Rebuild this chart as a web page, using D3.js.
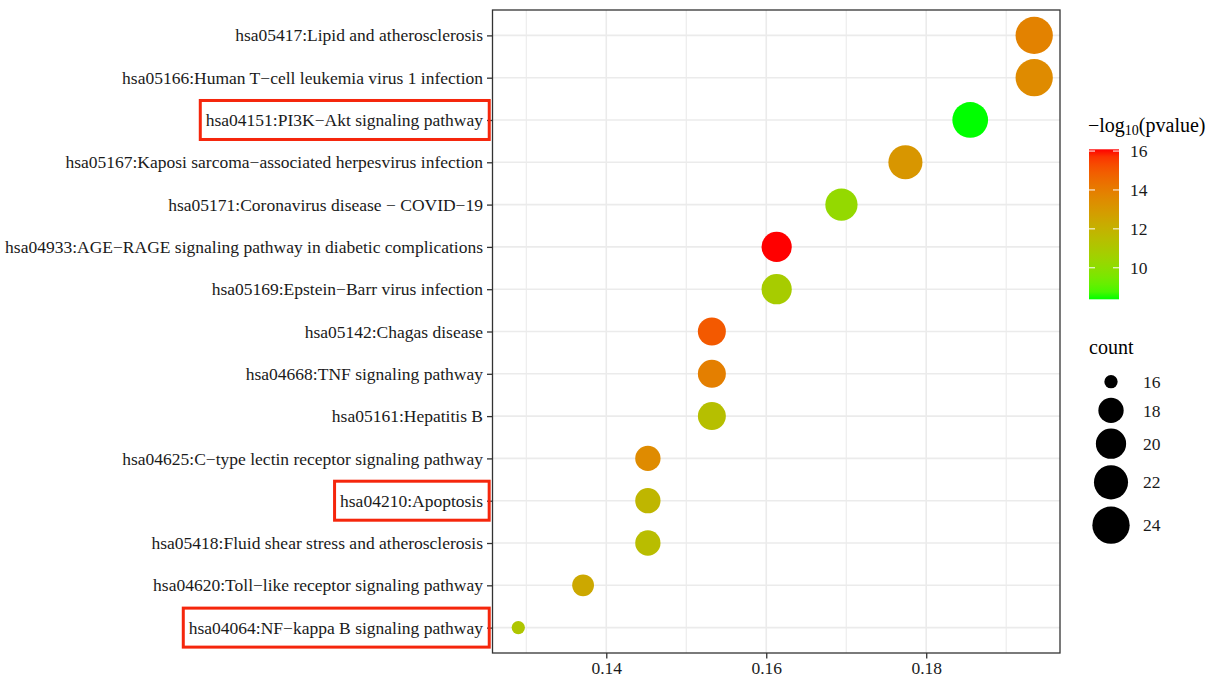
<!DOCTYPE html>
<html>
<head>
<meta charset="utf-8">
<script src="https://cdn.jsdelivr.net/npm/d3@7"></script>
<style>
  html, body { margin: 0; padding: 0; background: #fff; }
  svg { display: block; font-family: "Liberation Serif", "DejaVu Serif", serif; }
  svg text { font-family: "Liberation Serif", "DejaVu Serif", serif; }
</style>
</head>
<body>
<svg id="chart" width="1221" height="677"></svg>
<script>
// KEGG pathway enrichment, top to bottom
const pathways = [
  "hsa05417:Lipid and atherosclerosis",
  "hsa05166:Human T\u2212cell leukemia virus 1 infection",
  "hsa04151:PI3K\u2212Akt signaling pathway",
  "hsa05167:Kaposi sarcoma\u2212associated herpesvirus infection",
  "hsa05171:Coronavirus disease \u2212 COVID\u221219",
  "hsa04933:AGE\u2212RAGE signaling pathway in diabetic complications",
  "hsa05169:Epstein\u2212Barr virus infection",
  "hsa05142:Chagas disease",
  "hsa04668:TNF signaling pathway",
  "hsa05161:Hepatitis B",
  "hsa04625:C\u2212type lectin receptor signaling pathway",
  "hsa04210:Apoptosis",
  "hsa05418:Fluid shear stress and atherosclerosis",
  "hsa04620:Toll\u2212like receptor signaling pathway",
  "hsa04064:NF\u2212kappa B signaling pathway"
];
const geneRatio = [0.1935, 0.1935, 0.1855, 0.1774, 0.1694, 0.1613, 0.1613, 0.1532,
                   0.1532, 0.1532, 0.1452, 0.1452, 0.1452, 0.1371, 0.1290];
const geneCount = [24, 24, 23, 22, 21, 20, 20, 19, 19, 19, 18, 18, 18, 17, 16];
const negLogP  = [13.8, 13.5, 8.38, 13.1, 10.2, 16.09, 10.8, 15.0,
                  13.9, 11.4, 13.5, 11.8, 11.5, 12.4, 11.1];

const highlighted = [
  "hsa04151:PI3K\u2212Akt signaling pathway",
  "hsa04210:Apoptosis",
  "hsa04064:NF\u2212kappa B signaling pathway"
];

const xMajorTicks = [0.14, 0.16, 0.18];
const xMinorTicks = [0.13, 0.15, 0.17, 0.19];
const colorTicks = [10, 12, 14, 16];
const countTicks = [16, 18, 20, 22, 24];

const rows = pathways.map((p, i) => ({
  name: p, ratio: geneRatio[i], count: geneCount[i], score: negLogP[i]
}));

const svg = d3.select("#chart");
const panel = { left: 492.5, right: 1060, top: 10, bottom: 653 };
const FONT = 17.5;
const SERIF = "Liberation Serif, DejaVu Serif, serif";

// scales
const xExtent = d3.extent(geneRatio);
const xPad = (xExtent[1] - xExtent[0]) * 0.05;
const x = d3.scaleLinear()
  .domain([xExtent[0] - xPad, xExtent[1] + xPad])
  .range([panel.left, panel.right]);

const y = d3.scalePoint()
  .domain(pathways)
  .range([panel.top, panel.bottom])
  .padding(0.6);

const colorDomain = [8.38, 16.09];
const color = d3.scaleLinear()
  .domain(colorDomain)
  .range(["#00FF00", "#FF0000"])
  .interpolate(d3.interpolateLab);

// point size: diameter grows with sqrt of rescaled count (area scale)
const countExtent = [16, 24];
const diam = d3.scaleLinear().domain([0, 1]).range([13.3, 37.3]);
const radius = c => diam(Math.sqrt((c - countExtent[0]) / (countExtent[1] - countExtent[0]))) / 2;

// grid
const grid = svg.append("g");
grid.selectAll("line.minor").data(xMinorTicks).join("line")
  .attr("x1", d => x(d)).attr("x2", d => x(d))
  .attr("y1", panel.top).attr("y2", panel.bottom)
  .attr("stroke", "#EBEBEB").attr("stroke-width", 1.1);
grid.selectAll("line.majx").data(xMajorTicks).join("line")
  .attr("x1", d => x(d)).attr("x2", d => x(d))
  .attr("y1", panel.top).attr("y2", panel.bottom)
  .attr("stroke", "#EBEBEB").attr("stroke-width", 1.6);
grid.selectAll("line.majy").data(pathways).join("line")
  .attr("x1", panel.left).attr("x2", panel.right)
  .attr("y1", d => y(d)).attr("y2", d => y(d))
  .attr("stroke", "#EBEBEB").attr("stroke-width", 1.6);

// points
svg.append("g").selectAll("circle").data(rows).join("circle")
  .attr("cx", d => x(d.ratio))
  .attr("cy", d => y(d.name))
  .attr("r", d => radius(d.count))
  .attr("fill", d => color(d.score));

// panel border
svg.append("rect")
  .attr("x", panel.left).attr("y", panel.top)
  .attr("width", panel.right - panel.left).attr("height", panel.bottom - panel.top)
  .attr("fill", "none").attr("stroke", "#333333").attr("stroke-width", 1.3);

// axes
const yAxis = d3.axisLeft(y).tickSize(5.5).tickPadding(4);
const gy = svg.append("g").attr("transform", `translate(${panel.left},0)`).call(yAxis);
gy.attr("font-family", SERIF).attr("font-size", FONT);
gy.select(".domain").remove();
gy.selectAll(".tick line").attr("stroke", "#333333").attr("stroke-width", 1.3);
gy.selectAll(".tick text").attr("fill", "#1a1a1a");

const xAxis = d3.axisBottom(x).tickValues(xMajorTicks).tickFormat(d3.format(".2f"))
  .tickSize(5.5).tickPadding(3);
const gx = svg.append("g").attr("transform", `translate(0,${panel.bottom})`).call(xAxis);
gx.attr("font-family", SERIF).attr("font-size", FONT);
gx.select(".domain").remove();
gx.selectAll(".tick line").attr("stroke", "#333333").attr("stroke-width", 1.3);
gx.selectAll(".tick text").attr("fill", "#1a1a1a");

// red boxes round the highlighted pathway labels
gy.selectAll(".tick").each(function(d) {
  if (!highlighted.includes(d)) return;
  const bb = this.querySelector("text").getBBox();
  const yc = y(d);
  svg.append("rect")
    .attr("x", panel.left + bb.x - 5.5)
    .attr("y", yc - 19.5)
    .attr("width", bb.width + 11.5)
    .attr("height", 39)
    .attr("fill", "none")
    .attr("stroke", "#F5260C")
    .attr("stroke-width", 3);
});

// colour bar legend
const cb = { x: 1089, y: 149.3, w: 30, h: 150 };
const cbScale = d3.scaleLinear().domain(colorDomain).range([cb.y + cb.h, cb.y]);
const defs = svg.append("defs");
const grad = defs.append("linearGradient").attr("id", "cbGrad")
  .attr("x1", 0).attr("y1", 1).attr("x2", 0).attr("y2", 0);
d3.range(0, 1.0001, 0.05).forEach(t => {
  grad.append("stop").attr("offset", t)
    .attr("stop-color", color(colorDomain[0] + t * (colorDomain[1] - colorDomain[0])));
});

const title = svg.append("text").attr("x", 1088).attr("y", 132)
  .attr("font-family", SERIF).attr("font-size", 20).attr("fill", "#000");
title.append("tspan").text("\u2212log");
title.append("tspan").attr("dy", 3).attr("font-size", 14).text("10");
title.append("tspan").attr("dy", -3).text("(pvalue)");

svg.append("rect").attr("x", cb.x).attr("y", cb.y)
  .attr("width", cb.w).attr("height", cb.h).attr("fill", "url(#cbGrad)");
const cbTicks = svg.append("g").attr("font-family", SERIF).attr("font-size", FONT);
colorTicks.forEach(v => {
  const yy = cbScale(v);
  cbTicks.append("line").attr("x1", cb.x).attr("x2", cb.x + 6)
    .attr("y1", yy).attr("y2", yy).attr("stroke", "#fff").attr("stroke-width", 1);
  cbTicks.append("line").attr("x1", cb.x + cb.w - 6).attr("x2", cb.x + cb.w)
    .attr("y1", yy).attr("y2", yy).attr("stroke", "#fff").attr("stroke-width", 1);
  cbTicks.append("text").attr("x", 1130).attr("y", yy).attr("dy", "0.35em")
    .attr("fill", "#1a1a1a").text(v);
});

// size legend
svg.append("text").attr("x", 1089).attr("y", 354)
  .attr("font-family", SERIF).attr("font-size", 20).attr("fill", "#000").text("count");
let cy = 381.7 - Math.max(27, 1.2 * 2 * radius(countTicks[0])) / 2;
const sizeLegend = svg.append("g").attr("font-family", SERIF).attr("font-size", FONT);
countTicks.forEach(c => {
  const kh = Math.max(27, 1.2 * 2 * radius(c));
  const yc = cy + kh / 2;
  sizeLegend.append("circle").attr("cx", 1111).attr("cy", yc).attr("r", radius(c)).attr("fill", "#000");
  sizeLegend.append("text").attr("x", 1143).attr("y", yc).attr("dy", "0.35em")
    .attr("fill", "#1a1a1a").text(c);
  cy += kh;
});
</script>
</body>
</html>
